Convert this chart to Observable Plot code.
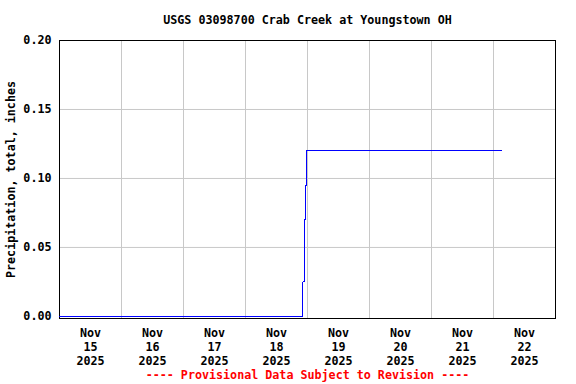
<!DOCTYPE html>
<html>
<head>
<meta charset="utf-8">
<script src="https://cdn.jsdelivr.net/npm/d3@7"></script>
<script src="https://cdn.jsdelivr.net/npm/@observablehq/plot@0.6"></script>
<style>
  html, body { margin: 0; padding: 0; background: white; }
</style>
</head>
<body>
<div id="chart"></div>
<script>
// Data (UTC timestamps used as clock time)
const times = [
  "2025-11-15T00:00Z",
  "2025-11-18T22:15Z",
  "2025-11-18T22:45Z",
  "2025-11-18T23:15Z",
  "2025-11-18T23:40Z",
  "2025-11-22T03:15Z"
];
const precip = [0.00, 0.025, 0.07, 0.095, 0.12, 0.12];

const dayNumbers = ["15", "16", "17", "18", "19", "20", "21", "22"];
const monthLabel = "Nov";
const yearLabel = "2025";
const yTicks = [0.00, 0.05, 0.10, 0.15, 0.20];

const titleText = "USGS 03098700 Crab Creek at Youngstown OH";
const yLabelText = "Precipitation, total, inches";
const footerText = "---- Provisional Data Subject to Revision ----";

const data = times.map((t, i) => ({date: new Date(t), value: precip[i]}));
const midnights = dayNumbers.map(d => new Date(`2025-11-${d}T00:00Z`));
const noons = dayNumbers.map(d => new Date(`2025-11-${d}T12:00Z`));
const xDomain = [new Date("2025-11-15T00:00Z"), new Date("2025-11-23T00:00Z")];

const chart = Plot.plot({
  width: 576,
  height: 384,
  marginLeft: 59,
  marginRight: 21,
  marginTop: 40,
  marginBottom: 66,
  style: {
    fontFamily: "'DejaVu Sans Mono', monospace",
    fontSize: "11.7px",
    fontWeight: "bold",
    background: "white",
    color: "black"
  },
  x: {type: "utc", domain: xDomain},
  y: {domain: [-0.0015, 0.2]},
  marks: [
    Plot.ruleX(midnights.slice(1), {stroke: "#c8c8c8", strokeWidth: 1, strokeOpacity: 1}),
    Plot.ruleY(yTicks.slice(1, -1), {stroke: "#c8c8c8", strokeWidth: 1, strokeOpacity: 1}),
    Plot.axisY({
      ticks: yTicks,
      tickFormat: d => d.toFixed(2),
      tickSize: 0,
      tickPadding: 8,
      label: null,
      fill: "black"
    }),
    Plot.axisX({
      ticks: noons,
      tickFormat: (d, i) => `${monthLabel}\n${dayNumbers[i]}\n${yearLabel}`,
      tickSize: 0,
      tickPadding: 8,
      lineHeight: 1.22,
      label: null,
      fill: "black"
    }),
    Plot.frame({stroke: "black", strokeWidth: 1}),
    Plot.line(data, {x: "date", y: "value", curve: "step-after", stroke: "#0000ff", strokeWidth: 1, shapeRendering: "crispEdges"}),
    Plot.text([titleText], {frameAnchor: "top", dy: -20, text: d => d, fill: "black", lineAnchor: "middle"}),
    Plot.text([yLabelText], {frameAnchor: "left", dx: -48, rotate: -90, textAnchor: "middle", text: d => d, fill: "black", lineAnchor: "middle"}),
    Plot.text([footerText], {frameAnchor: "bottom", dy: 57, text: d => d, fill: "#ff0000", lineAnchor: "middle"})
  ]
});

document.getElementById("chart").appendChild(chart);
</script>
</body>
</html>
